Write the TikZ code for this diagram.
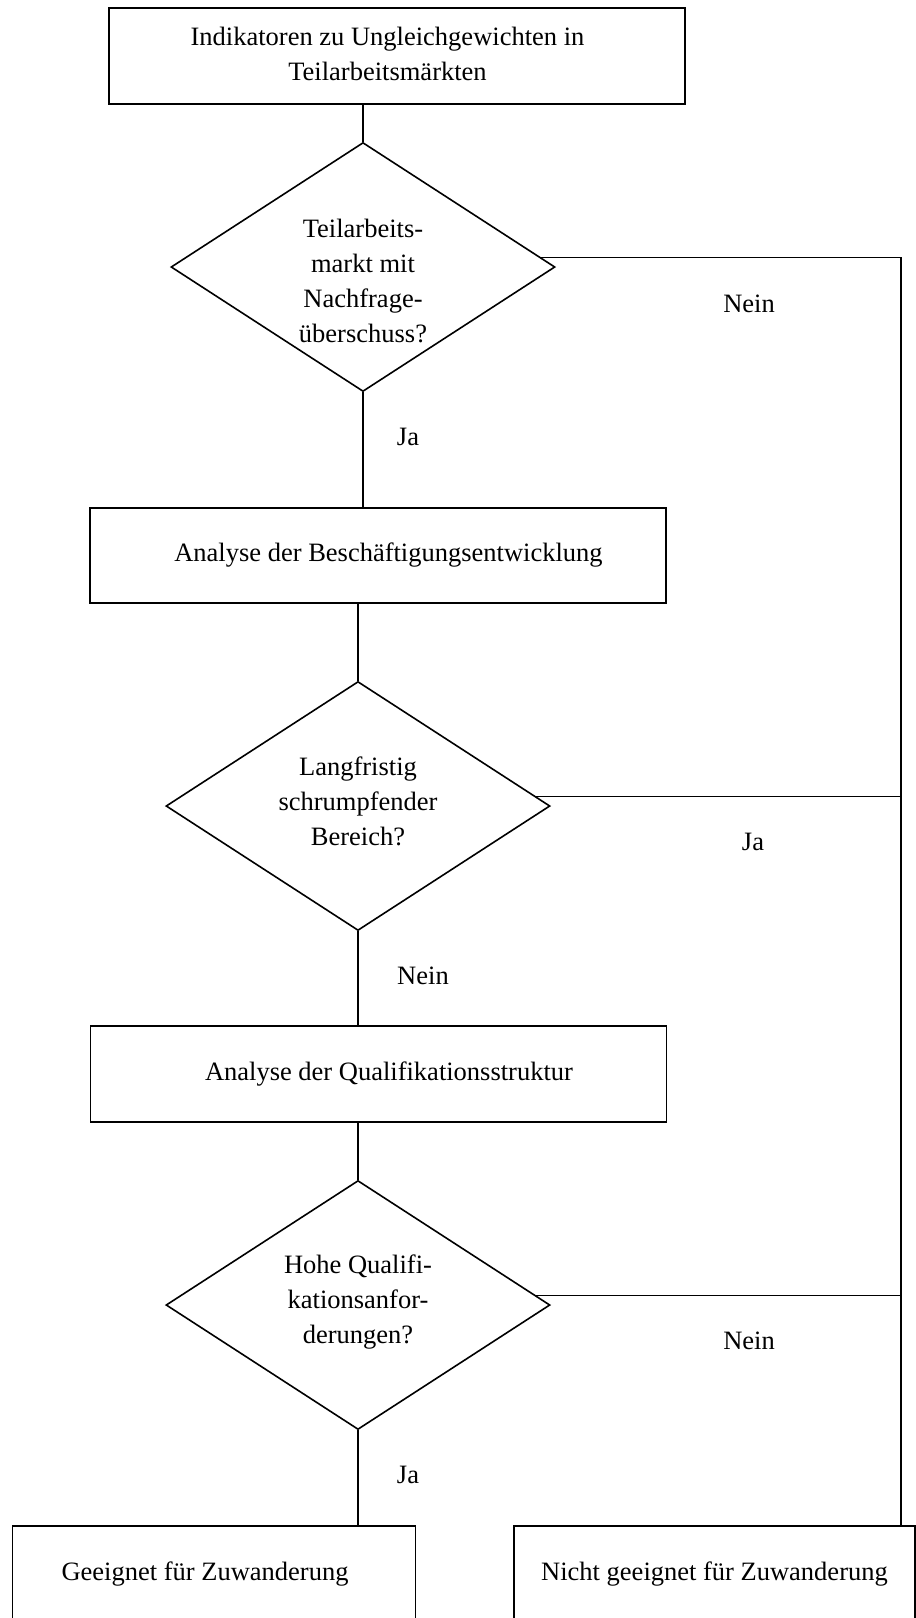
\documentclass[tikz,border=0pt]{standalone}
\usepackage{fontspec}
\setmainfont{Liberation Serif}
\usetikzlibrary{shapes.geometric, positioning}

\begin{document}
\begin{tikzpicture}[
      x=1pt, y=-1pt,  % pixel grid, y grows downwards
      line width=1.6pt,
      every node/.style={font=\fontsize{26.5}{35}\selectfont, align=center},
      question/.style={diamond, draw, aspect=1.54, inner sep=0pt, minimum width=384pt, minimum height=249pt},
      stage/.style={rectangle, draw, inner sep=0pt, minimum width=576pt, minimum height=96pt},
      outcome/.style={rectangle, draw, inner sep=0pt, minimum width=403pt, minimum height=96pt},
      answer/.style={inner sep=0pt}
    ]
    \useasboundingbox (0,0) rectangle (916,1618);
    \clip (0,0) rectangle (916,1618);

    % Main column (struts and hspaces nudge the text off centre as in the original)
    \node[stage] (top) at (397,56) {Indikatoren zu Ungleichgewichten in\hspace*{19pt}\\\rule[-5pt]{0pt}{5pt}Teilarbeitsmärkten\hspace*{19pt}};
    \node[question] (nachfrage) at (363,267) {\rule{0pt}{46pt}Teilarbeits-\\markt mit\\Nachfrage-\\überschuss?};
    \node[stage, minimum height=95pt] (beschaeftigung) at (378,555.5) {\hspace*{21pt}Analyse der Beschäftigungsentwicklung};
    \node[question] (schrumpf) at (358,806) {Langfristig\\schrumpfender\\\rule[-10pt]{0pt}{10pt}Bereich?};
    \node[stage] (qualifikation) at (378.5,1074) {\hspace*{21pt}Analyse der Qualifikationsstruktur};
    \node[question] (anforderung) at (358,1305) {Hohe Qualifi-\\kationsanfor-\\\rule[-12pt]{0pt}{12pt}derungen?};

    % Results
    \node[outcome] (geeignet) at (214,1574) {Geeignet für Zuwanderung\hspace*{18pt}};
    \node[outcome, minimum width=401pt] (nicht) at (714.5,1574) {Nicht geeignet für Zuwanderung};

    % Answers
    \node[answer] (ja1) at (408,437) {Ja};
    \node[answer] (nein1) at (749,304) {Nein};
    \node[answer] (nein2) at (423,976) {Nein};
    \node[answer] (ja2) at (753,842) {Ja};
    \node[answer] (ja3) at (408,1475) {Ja};
    \node[answer] (nein3) at (749,1341) {Nein};

    % Connectors down the column
    \draw (top.south -| nachfrage.north) -- (nachfrage.north);
    \draw (nachfrage.south) -- (nachfrage.south |- beschaeftigung.north);
    \draw (beschaeftigung.south -| schrumpf.north) -- (schrumpf.north);
    \draw (schrumpf.south) -- (schrumpf.south |- qualifikation.north);
    \draw (qualifikation.south -| anforderung.north) -- (anforderung.north);
    \draw (anforderung.south) -- (anforderung.south |- geeignet.north);

    % Right-hand rail
    \coordinate (rail) at (901,258);
    \draw (nachfrage.3) -- (nachfrage.3 -| rail) -- (rail |- nicht.north);
    \draw (schrumpf.3) -- (schrumpf.3 -| rail);
    \draw (anforderung.3) -- (anforderung.3 -| rail);
\end{tikzpicture}
\end{document}
